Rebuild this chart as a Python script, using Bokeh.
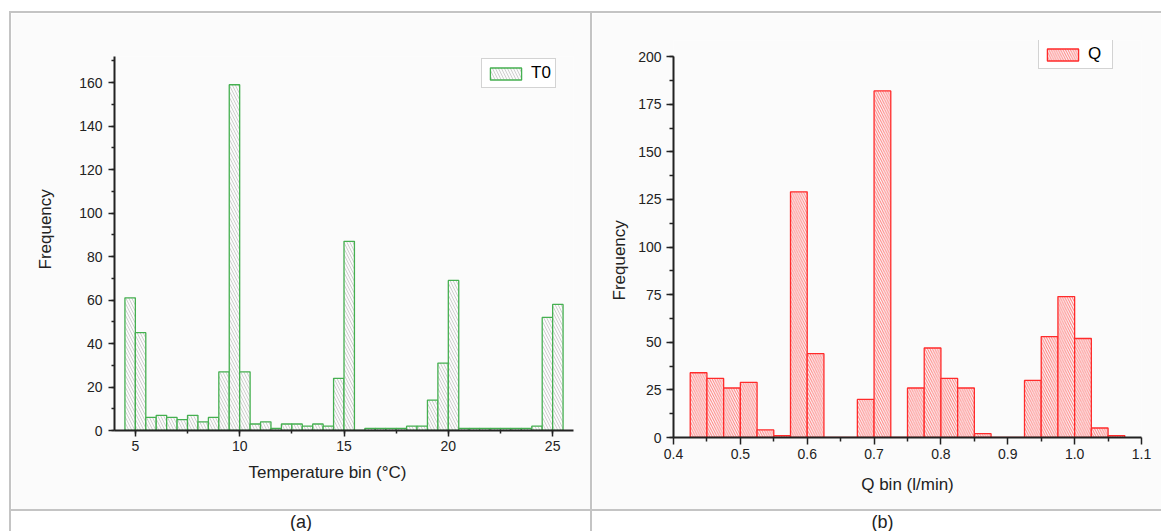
from bokeh.plotting import figure
from bokeh.models import (ColumnDataSource, SingleIntervalTicker, FixedTicker,
                          PrintfTickFormatter, Legend, LegendItem, Title, Spacer)
from bokeh.layouts import row, column
from bokeh.embed import file_html
from bokeh.resources import INLINE
from bokeh.core.properties import value

# ---------------- data ----------------
# Panel (a): temperature histogram, bin width 0.5 degC
t_bin_left = [4.5, 5.0, 5.5, 6.0, 6.5, 7.0, 7.5, 8.0, 8.5, 9.0,
              9.5, 10.0, 10.5, 11.0, 11.5, 12.0, 12.5, 13.0, 13.5, 14.0,
              14.5, 15.0, 15.5, 16.0, 16.5, 17.0, 17.5, 18.0, 18.5, 19.0,
              19.5, 20.0, 20.5, 21.0, 21.5, 22.0, 22.5, 23.0, 23.5, 24.0,
              24.5, 25.0]
t_freq = [61, 45, 6, 7, 6, 5, 7, 4, 6, 27,
          159, 27, 3, 4, 1, 3, 3, 2, 3, 2,
          24, 87, 0, 1, 1, 1, 1, 2, 2, 14,
          31, 69, 1, 1, 1, 1, 1, 1, 1, 2,
          52, 58]
t_bin_width = 0.5

# Panel (b): flow histogram, bin width 0.025 l/min
q_bin_left = [0.425, 0.45, 0.475, 0.5, 0.525, 0.55, 0.575, 0.6, 0.625, 0.65,
              0.675, 0.7, 0.725, 0.75, 0.775, 0.8, 0.825, 0.85, 0.875, 0.9,
              0.925, 0.95, 0.975, 1.0, 1.025, 1.05]
q_freq = [34, 31, 26, 29, 4, 1, 129, 44, 0, 0,
          20, 182, 0, 26, 47, 31, 26, 2, 0, 0,
          30, 53, 74, 52, 5, 1]
q_bin_width = 0.025

q_ticks = [0.4, 0.5, 0.6, 0.7, 0.8, 0.9, 1.0, 1.1]
q_minor_ticks = [0.45, 0.55, 0.65, 0.75, 0.85, 0.95, 1.05]

series_labels = ["T0", "Q"]
x_titles = ["Temperature bin (°C)", "Q bin (l/min)"]
y_title = "Frequency"
captions = ["(a)", "(b)"]

# ---------------- style ----------------
FONT = "Liberation Sans"
BG = "#fbfbfb"
GRID = "#c4c4c4"
INK = "#222222"


def style_axes(p, x_standoff, y_standoff, tick_out, minor_out):
    p.grid.visible = False
    for ax in (p.xaxis[0], p.yaxis[0]):
        ax.axis_line_width = 2
        ax.axis_line_color = INK
        ax.major_tick_line_width = 1.5
        ax.major_tick_line_color = INK
        ax.minor_tick_line_width = 1.5
        ax.minor_tick_line_color = INK
        ax.major_tick_in = 0
        ax.minor_tick_in = 0
        ax.major_tick_out = tick_out
        ax.minor_tick_out = minor_out
        ax.major_label_text_font = FONT
        ax.major_label_text_font_size = "14px"
        ax.major_label_text_color = INK
    p.xaxis[0].major_label_standoff = x_standoff
    p.yaxis[0].major_label_standoff = y_standoff


def make_legend(p, r, label, loc):
    lg = Legend(items=[LegendItem(label=label, renderers=[r])], location=loc,
                border_line_color="#a8a8a8", border_line_width=1.5,
                background_fill_color="white", background_fill_alpha=1.0,
                padding=4, margin=0, spacing=0,
                glyph_width=39, glyph_height=15, label_height=15,
                label_standoff=6, label_text_font=FONT,
                label_text_font_size="17px", label_text_color="black")
    p.add_layout(lg)


def title(text, side_offset, standoff, valign):
    return Title(text=text, align="left", offset=side_offset, standoff=standoff,
                 vertical_align=valign, text_font=FONT, text_font_size="17px",
                 text_font_style="normal", text_color=INK)


# ---------------- panel (a) ----------------
src_a = ColumnDataSource(dict(left=t_bin_left,
                              right=[v + t_bin_width for v in t_bin_left],
                              top=t_freq))
pa = figure(width=579, height=496, x_range=(4, 26), y_range=(0, 172),
            output_backend="svg", toolbar_location=None, frame_align=False,
            min_border_left=100, min_border_right=17,
            min_border_top=43, min_border_bottom=79,
            background_fill_color=BG, border_fill_color=BG,
            outline_line_color=None)
ra = pa.quad(left="left", right="right", bottom=0, top="top", source=src_a,
             fill_color=BG, hatch_pattern="left_diagonal_line",
             hatch_color="#cfcfcf", hatch_scale=6, hatch_weight=1,
             line_color="#45b050", line_width=1.3)
pa.xaxis.ticker = SingleIntervalTicker(interval=5, num_minor_ticks=2)
pa.yaxis.ticker = SingleIntervalTicker(interval=20, num_minor_ticks=2)
style_axes(pa, x_standoff=4, y_standoff=6, tick_out=6, minor_out=3)
make_legend(pa, ra, series_labels[0], (367, 342))
pa.add_layout(title(y_title, 161, 44, "bottom"), "left")
pa.add_layout(title(x_titles[0], 134, 18, "top"), "below")

# ---------------- panel (b) ----------------
src_b = ColumnDataSource(dict(left=q_bin_left,
                              right=[v + q_bin_width for v in q_bin_left],
                              top=q_freq))
pb = figure(width=569, height=496, x_range=(0.4, 1.1), y_range=(0, 208.5),
            output_backend="svg", toolbar_location=None, frame_align=False,
            min_border_left=81, min_border_right=20,
            min_border_top=27, min_border_bottom=72,
            background_fill_color=BG, border_fill_color=BG,
            outline_line_color=None)
rb = pb.quad(left="left", right="right", bottom=0, top="top", source=src_b,
             fill_color=BG, hatch_pattern="left_diagonal_line",
             hatch_color="#ff7d7d", hatch_scale=4.8, hatch_weight=1,
             line_color="#ff2b2b", line_width=1.3)
pb.xaxis.ticker = FixedTicker(ticks=q_ticks, minor_ticks=q_minor_ticks)
pb.xaxis.formatter = PrintfTickFormatter(format="%.1f")
pb.yaxis.ticker = SingleIntervalTicker(interval=25, num_minor_ticks=2)
pb.yaxis.bounds = (0, 200)
style_axes(pb, x_standoff=4, y_standoff=5, tick_out=7, minor_out=4)
pb.xaxis.axis_label = x_titles[1]
pb.xaxis.axis_label_standoff = 13
pb.xaxis.axis_label_text_font = FONT
pb.xaxis.axis_label_text_font_size = "17px"
pb.xaxis.axis_label_text_font_style = "normal"
pb.xaxis.axis_label_text_color = INK
make_legend(pb, rb, series_labels[1], (365, 368))
pb.add_layout(title(y_title, 137, 14, "bottom"), "left")


# ---------------- captions ----------------
def caption(text, w, h, cx):
    c = figure(width=w, height=h, x_range=(0, w), y_range=(0, h),
               output_backend="svg", toolbar_location=None,
               x_axis_location=None, y_axis_location=None,
               min_border=0, outline_line_color=None, frame_align=False,
               background_fill_color="white", border_fill_color="white")
    c.grid.visible = False
    c.text(x=[cx], y=[h], text=[text], text_align="center", text_baseline="top",
           text_font=value(FONT), text_font_size="18px", text_color=INK)
    return c


ca = caption(captions[0], 579, 20, 289.5)
cb = caption(captions[1], 569, 20, 290)


def gray(w, h):
    return Spacer(width=w, height=h, styles={"background-color": GRID})


def blank(w, h):
    return Spacer(width=w, height=h)


layout = column(
    blank(1161, 11),
    row(blank(9, 2), gray(1152, 2)),
    row(blank(9, 496), gray(2, 496), pa, gray(2, 496), pb),
    row(blank(9, 2), gray(1152, 2)),
    row(blank(9, 20), gray(2, 20), ca, gray(2, 20), cb),
)

open("out.html", "w").write(file_html(layout, INLINE))
